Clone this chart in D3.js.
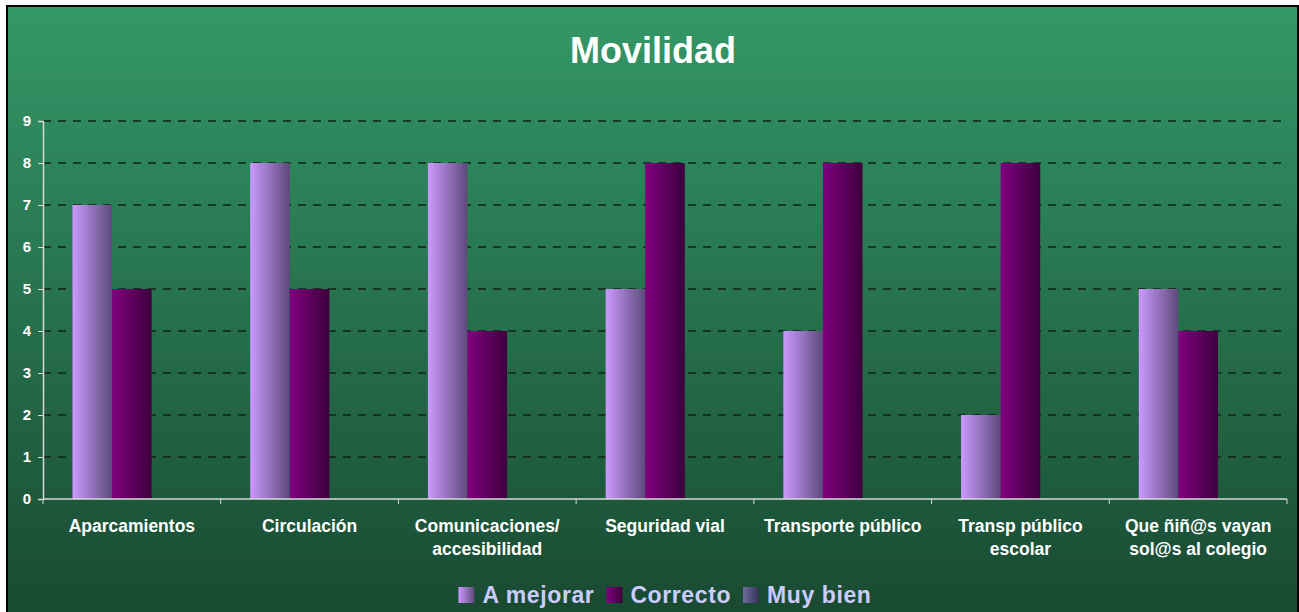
<!DOCTYPE html>
<html>
<head>
<meta charset="utf-8">
<script src="https://cdn.jsdelivr.net/npm/d3@7.9.0/dist/d3.min.js"></script>
<style>
  body { margin: 0; background: #fff; }
  svg { display: block; font-family: Arial, "Liberation Sans", sans-serif; }
</style>
</head>
<body>
<div id="chart"></div>
<script>
// Chart data
const categories = [
  ['Aparcamientos'],
  ['Circulación'],
  ['Comunicaciones/', 'accesibilidad'],
  ['Seguridad vial'],
  ['Transporte público'],
  ['Transp público', 'escolar'],
  ['Que ñiñ@s vayan', 'sol@s al colegio'],
];
const seriesNames = ['A mejorar', 'Correcto', 'Muy bien'];
const aMejorar = [7, 8, 8, 5, 4, 2, 5];
const correcto = [5, 5, 4, 8, 8, 8, 4];
const muyBien = [0, 0, 0, 0, 0, 0, 0];
const yTicks = [0, 1, 2, 3, 4, 5, 6, 7, 8, 9];

const width = 1299, height = 612;
const frame = { left: 7, top: 6, right: 1298, bottom: 612 };
const plot = { left: 43, right: 1287, top: 121, bottom: 499 };

const svg = d3.select('#chart').append('svg')
  .attr('width', width).attr('height', height);

const defs = svg.append('defs');
const bg = defs.append('linearGradient').attr('id', 'bg')
  .attr('x1', 0).attr('y1', 0).attr('x2', 0).attr('y2', 1);
bg.append('stop').attr('offset', 0).attr('stop-color', '#349868');
bg.append('stop').attr('offset', 1).attr('stop-color', '#194a32');

const barColors = [
  ['#cc99ff', '#5c4a7a'],
  ['#80007f', '#3d003d'],
  ['#6c6c9e', '#333352'],
];
barColors.forEach((c, i) => {
  const g = defs.append('linearGradient').attr('id', 'bar' + i)
    .attr('x1', 0).attr('y1', 0).attr('x2', 1).attr('y2', 0);
  g.append('stop').attr('offset', 0).attr('stop-color', c[0]);
  g.append('stop').attr('offset', 1).attr('stop-color', c[1]);
});

// Background and frame
svg.append('rect')
  .attr('x', frame.left).attr('y', frame.top)
  .attr('width', frame.right - frame.left).attr('height', frame.bottom - frame.top)
  .attr('fill', 'url(#bg)');
svg.append('path')
  .attr('d', `M${frame.left},${frame.bottom}V${frame.top}H${frame.right}V${frame.bottom}`)
  .attr('fill', 'none').attr('stroke', '#000').attr('stroke-width', 2);

// Title
svg.append('text')
  .attr('x', 653).attr('y', 63)
  .attr('text-anchor', 'middle')
  .attr('fill', '#fff').attr('font-weight', 'bold').attr('font-size', 36)
  .text('Movilidad');

const x0 = d3.scaleBand()
  .domain(d3.range(categories.length))
  .range([plot.left, plot.right])
  .paddingInner(0.332).paddingOuter(0.166);
const x1 = d3.scaleBand().domain(d3.range(3)).range([0, x0.bandwidth()]);
const y = d3.scaleLinear().domain([0, 9]).range([plot.bottom, plot.top]);

// Gridlines
svg.append('g')
  .selectAll('line')
  .data(yTicks.filter((d) => d > 0))
  .join('line')
  .attr('x1', plot.left).attr('x2', plot.right)
  .attr('y1', (d) => y(d)).attr('y2', (d) => y(d))
  .attr('stroke', '#0c2416').attr('stroke-width', 1.3)
  .attr('stroke-dasharray', '8,7');

// Bars
const series = [aMejorar, correcto, muyBien];
series.forEach((vals, s) => {
  svg.append('g')
    .selectAll('rect')
    .data(vals)
    .join('rect')
    .attr('x', (d, i) => x0(i) + x1(s))
    .attr('y', (d) => y(d))
    .attr('width', x1.bandwidth())
    .attr('height', (d) => y(0) - y(d))
    .attr('fill', `url(#bar${s})`);
});

// Y axis
const yAxis = svg.append('g')
  .attr('transform', `translate(${plot.left},0)`)
  .call(d3.axisLeft(y).tickValues(yTicks).tickSize(5).tickPadding(7));
yAxis.select('.domain').attr('stroke', '#d8d8d8').attr('stroke-width', 1.5);
yAxis.selectAll('.tick line').attr('stroke', '#d8d8d8');
yAxis.selectAll('.tick text')
  .attr('fill', '#fff').attr('font-weight', 'bold').attr('font-size', 15)
  .attr('font-family', 'Arial, "Liberation Sans", sans-serif');

// X axis
const xAxisG = svg.append('g');
xAxisG.append('line')
  .attr('x1', plot.left).attr('x2', plot.right)
  .attr('y1', plot.bottom).attr('y2', plot.bottom)
  .attr('stroke', '#d8d8d8').attr('stroke-width', 1.5);
const step = x0.step();
xAxisG.selectAll('line.tk')
  .data(d3.range(categories.length + 1))
  .join('line').attr('class', 'tk')
  .attr('x1', (d) => plot.left + d * step).attr('x2', (d) => plot.left + d * step)
  .attr('y1', plot.bottom).attr('y2', plot.bottom + 5)
  .attr('stroke', '#d8d8d8');
xAxisG.selectAll('text.cat')
  .data(categories)
  .join('text').attr('class', 'cat')
  .attr('x', (d, i) => x0(i) + x0.bandwidth() / 2)
  .attr('y', 532)
  .attr('text-anchor', 'middle')
  .attr('fill', '#fff').attr('font-weight', 'bold').attr('font-size', 17.5)
  .each(function (lines) {
    const t = d3.select(this);
    lines.forEach((ln, k) => {
      t.append('tspan')
        .attr('x', t.attr('x'))
        .attr('dy', k === 0 ? 0 : 23)
        .text(ln);
    });
  });

// Legend
const legend = svg.append('g');
let lx = 0;
seriesNames.forEach((name, i) => {
  const g = legend.append('g');
  g.append('rect').attr('x', 0).attr('y', -16).attr('width', 16).attr('height', 16)
    .attr('fill', `url(#bar${i})`);
  const t = g.append('text').attr('x', 24).attr('y', 0)
    .attr('fill', '#ccccff').attr('font-weight', 'bold').attr('font-size', 23)
    .attr('letter-spacing', 0.6)
    .text(name);
  g.attr('transform', `translate(${lx},0)`);
  lx += 24 + t.node().getComputedTextLength() + 12;
});
lx -= 12;
legend.attr('transform', `translate(${665 - lx / 2},603)`);
</script>
</body>
</html>
